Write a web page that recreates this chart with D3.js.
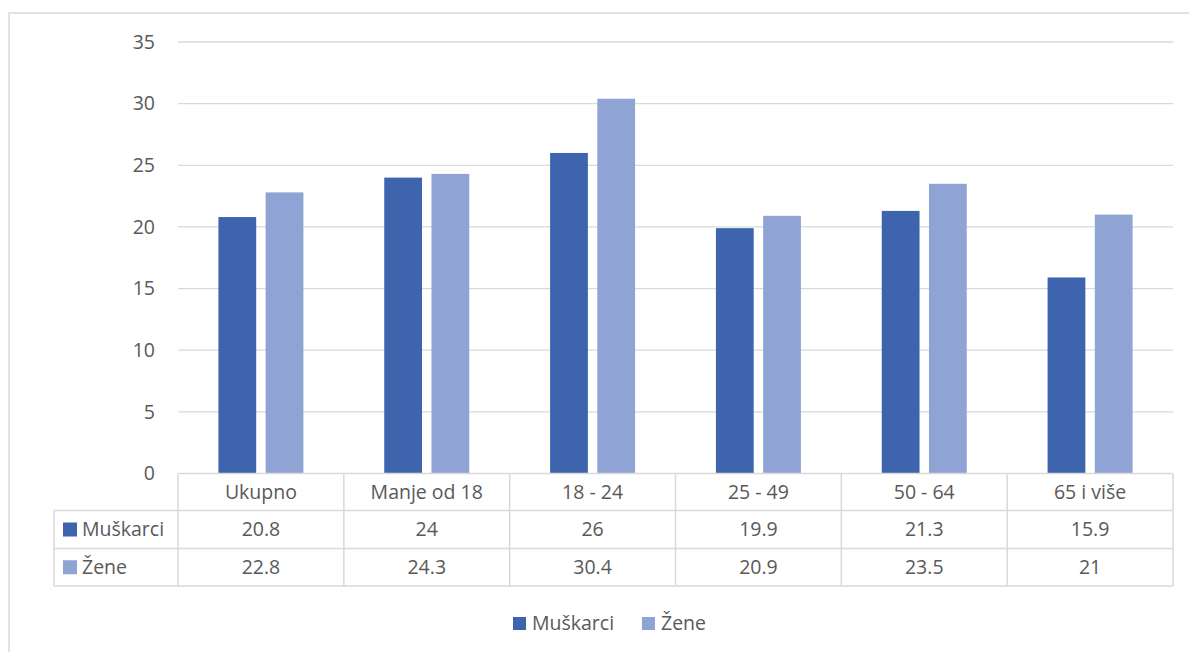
<!DOCTYPE html>
<html><head><meta charset="utf-8">
<script src="https://cdn.jsdelivr.net/npm/d3@7"></script>
<style>body{margin:0;background:#fff;} text{font-family:"Open Sans","Liberation Sans",sans-serif;fill:#595959;}</style>
</head><body>
<svg id="c" width="1189" height="652"></svg>
<script>
const categories = ["Ukupno","Manje od 18","18 - 24","25 - 49","50 - 64","65 i više"];
const seriesNames = ["Muškarci","Žene"];
const muskarci = [20.8,24,26,19.9,21.3,15.9];
const zene = [22.8,24.3,30.4,20.9,23.5,21];
const yTicks = [0,5,10,15,20,25,30,35];
const colors = ["#3D64AD","#8FA4D5"];
const seriesValues = [muskarci, zene];
const FS = 19.5;

const svg = d3.select("#c");
svg.append("rect").attr("x",9).attr("y",13).attr("width",1190).attr("height",660)
  .attr("fill","none").attr("stroke","#d9d9d9").attr("stroke-width",1.5);

const pLeft=178, pRight=1173, pTop=42, pBottom=473.5;
const x = d3.scaleBand().domain(categories).range([pLeft,pRight]).padding(0);
const xs = d3.scaleBand().domain(seriesNames).range([0,85]).paddingInner(0.2);
const y = d3.scaleLinear().domain([0,35]).range([pBottom,pTop]);

svg.append("g").selectAll("line").data(yTicks.filter(d=>d>0)).join("line")
  .attr("x1",pLeft).attr("x2",pRight).attr("y1",d=>y(d)).attr("y2",d=>y(d))
  .attr("stroke","#d9d9d9").attr("stroke-width",1.3);
svg.append("g").selectAll("text").data(yTicks).join("text")
  .attr("x",155).attr("y",d=>y(d)).attr("dy","0.35em").attr("text-anchor","end")
  .attr("font-size",FS).text(d=>d);

const off = (x.bandwidth()-85)/2;
seriesNames.forEach((s,si)=>{
  svg.append("g").selectAll("rect").data(categories).join("rect")
    .attr("x",d=>x(d)+off+xs(s)).attr("width",xs.bandwidth())
    .attr("y",(d,i)=>y(seriesValues[si][i])).attr("height",(d,i)=>pBottom-y(seriesValues[si][i]))
    .attr("fill",colors[si]);
});

const rowY = [473.5, 510.5, 548.5, 586];
const tbl = svg.append("g").attr("stroke","#d9d9d9").attr("stroke-width",1.5).attr("fill","none");
tbl.append("line").attr("x1",pLeft).attr("x2",pRight).attr("y1",rowY[0]).attr("y2",rowY[0]);
[1,2,3].forEach(r=>tbl.append("line").attr("x1",54).attr("x2",pRight).attr("y1",rowY[r]).attr("y2",rowY[r]));
tbl.append("line").attr("x1",54).attr("x2",54).attr("y1",rowY[1]).attr("y2",rowY[3]);
categories.concat([null]).forEach((c,i)=>{
  const xx = c===null? pRight : x(c);
  tbl.append("line").attr("x1",xx).attr("x2",xx).attr("y1",rowY[0]).attr("y2",rowY[3]);
});
svg.append("g").selectAll("text").data(categories).join("text")
  .attr("x",d=>x(d)+x.bandwidth()/2).attr("y",(rowY[0]+rowY[1])/2).attr("dy","0.35em")
  .attr("text-anchor","middle").attr("font-size",FS).text(d=>d);
seriesNames.forEach((s,si)=>{
  const cy=(rowY[si+1]+rowY[si+2])/2;
  svg.append("rect").attr("x",63).attr("y",cy-7).attr("width",14).attr("height",14).attr("fill",colors[si]);
  svg.append("text").attr("x",82).attr("y",cy).attr("dy","0.35em").attr("font-size",FS).text(s);
  svg.append("g").selectAll("text").data(categories).join("text")
    .attr("x",d=>x(d)+x.bandwidth()/2).attr("y",cy).attr("dy","0.35em")
    .attr("text-anchor","middle").attr("font-size",FS).text((d,i)=>seriesValues[si][i]);
});

const lg = svg.append("g");
const legX=[513,642];
seriesNames.forEach((s,si)=>{
  lg.append("rect").attr("x",legX[si]).attr("y",617).attr("width",13).attr("height",13).attr("fill",colors[si]);
  lg.append("text").attr("x",legX[si]+19).attr("y",623.5).attr("dy","0.35em").attr("font-size",FS).text(s);
});
</script>
</body></html>
